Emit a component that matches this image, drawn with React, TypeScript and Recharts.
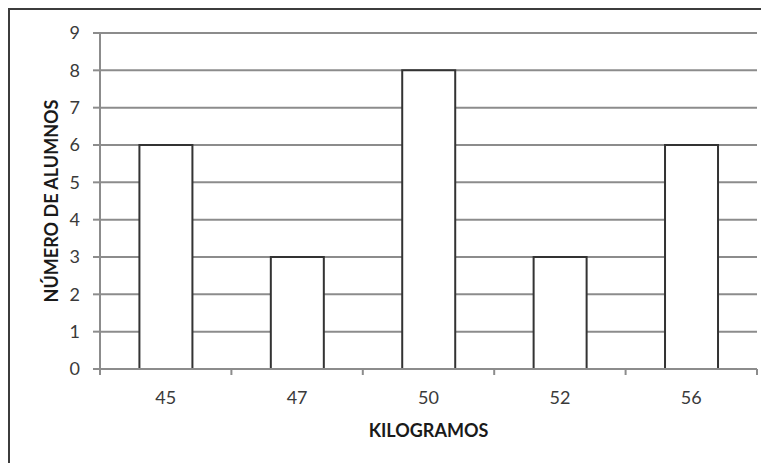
import { BarChart, Bar, XAxis, YAxis, CartesianGrid } from "recharts";

const kilogramos = ["45", "47", "50", "52", "56"];
const alumnos = [6, 3, 8, 3, 6];
const yTicks = [0, 1, 2, 3, 4, 5, 6, 7, 8, 9];

const data = kilogramos.map((kg, i) => ({ kg, alumnos: alumnos[i] }));

const FONT = "Lato, 'Open Sans', sans-serif";
const AXIS_GRAY = "#8c8c8c";
const TEXT = "#3a3a3a";
const TICK_SIZE = 6;
const TICK_MARGIN = 16;

// Excel-style category axis: labels in the middle, tick marks on the band edges
function KgTick(props: any) {
  const { x, y, payload, index, width, visibleTicksCount } = props;
  const band = width / visibleTicksCount;
  const axisY = y - TICK_SIZE - TICK_MARGIN;
  return (
    <g>
      {index === 0 && (
        <line x1={x - band / 2} x2={x - band / 2} y1={axisY} y2={axisY + TICK_SIZE} stroke={AXIS_GRAY} strokeWidth={2} />
      )}
      <line x1={x + band / 2} x2={x + band / 2} y1={axisY} y2={axisY + TICK_SIZE} stroke={AXIS_GRAY} strokeWidth={2} />
      <text x={x} y={y} dy="0.71em" textAnchor="middle" fill={TEXT} fontSize={18} fontFamily={FONT}>
        {payload.value}
      </text>
    </g>
  );
}

export default function App() {
  return (
    <div
      style={{
        position: "relative",
        width: 751,
        height: 453,
        borderTop: "2px solid #3c3c3c",
        borderLeft: "2px solid #3c3c3c",
      }}
    >
      <div style={{ position: "absolute", left: -2, top: -2 }}>
        <BarChart
          width={753}
          height={455}
          data={data}
          margin={{ top: 25, right: 4, left: 0, bottom: 0 }}
          barCategoryGap="30%"
        >
          <CartesianGrid vertical={false} stroke={AXIS_GRAY} strokeWidth={2} />
          <XAxis
            dataKey="kg"
            height={94}
            tickLine={false}
            tickSize={TICK_SIZE}
            tickMargin={TICK_MARGIN}
            axisLine={{ stroke: AXIS_GRAY, strokeWidth: 2 }}
            tick={<KgTick />}
            label={{
              content: ({ viewBox }: any) => (
                <text
                  x={viewBox.x + viewBox.width / 2}
                  y={viewBox.y + 68}
                  textAnchor="middle"
                  fontSize={18}
                  fontWeight="bold"
                  fontFamily={FONT}
                  fill="#1a1a1a"
                >
                  KILOGRAMOS
                </text>
              ),
            }}
          />
          <YAxis
            width={92}
            domain={[0, 9]}
            ticks={yTicks}
            interval={0}
            tickSize={7}
            tickMargin={13}
            tickLine={{ stroke: AXIS_GRAY, strokeWidth: 2 }}
            axisLine={{ stroke: AXIS_GRAY, strokeWidth: 2 }}
            tick={{ fill: TEXT, fontSize: 18, fontFamily: FONT }}
            label={{
              content: ({ viewBox }: any) => {
                const cx = 50;
                const cy = viewBox.y + viewBox.height / 2;
                return (
                  <text
                    x={cx}
                    y={cy}
                    transform={`rotate(-90 ${cx} ${cy})`}
                    textAnchor="middle"
                    fontSize={18}
                    fontWeight="bold"
                    fontFamily={FONT}
                    fill="#1a1a1a"
                  >
                    NÚMERO DE ALUMNOS
                  </text>
                );
              },
            }}
          />
          <Bar
            dataKey="alumnos"
            fill="#ffffff"
            stroke="#333333"
            strokeWidth={2}
            isAnimationActive={false}
          />
        </BarChart>
      </div>
    </div>
  );
}
